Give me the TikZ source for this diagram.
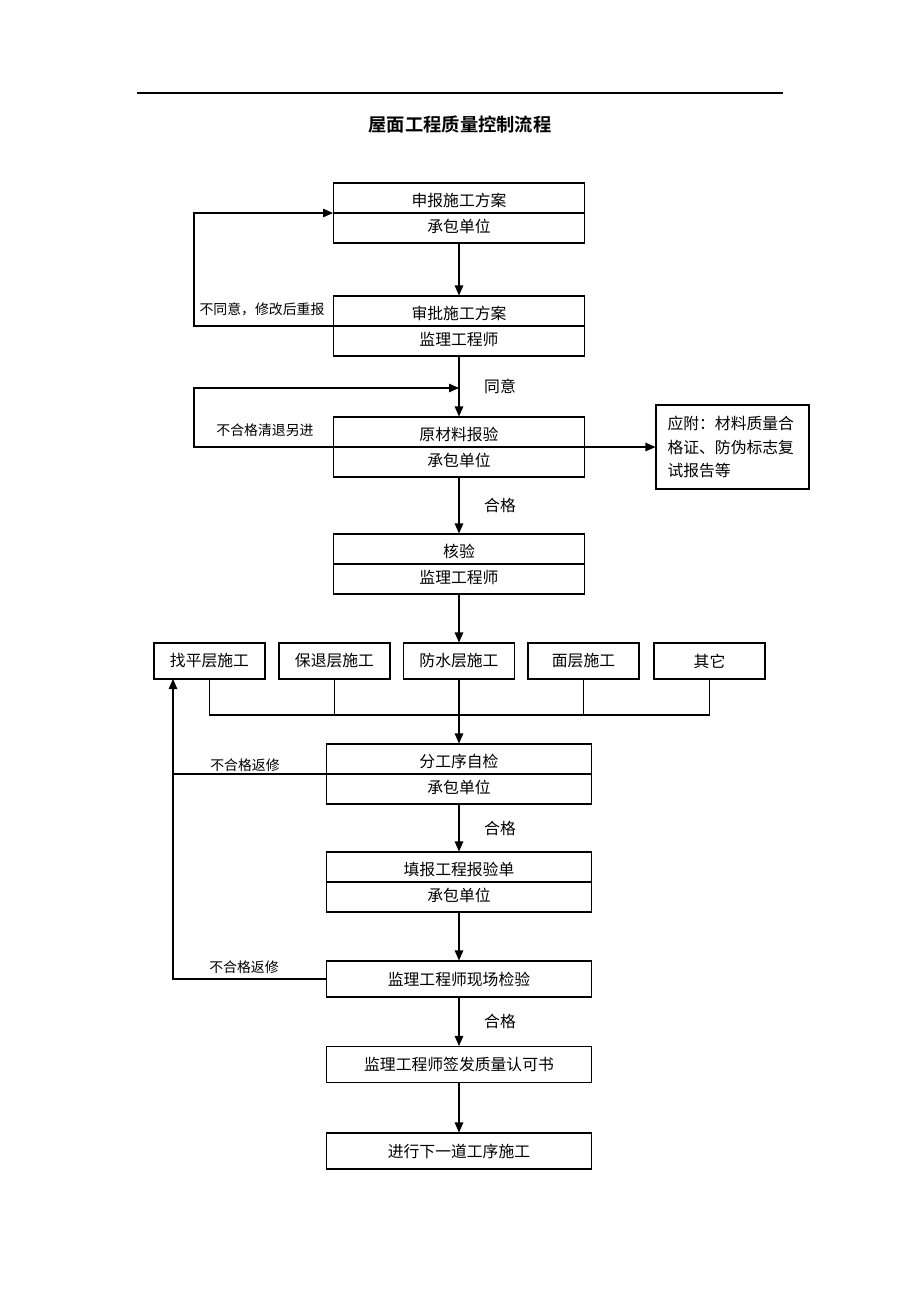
\documentclass[tikz,border=0pt]{standalone}
\usepackage{fontspec}
\setmainfont{Noto Sans CJK SC}[BoldFont={Noto Sans CJK SC Bold}]
\usetikzlibrary{arrows.meta,positioning,calc}

\begin{document}
\begin{tikzpicture}[x=0.02cm, y=-0.02cm, line width=0.6pt]
  \tikzstyle{box}=[draw, rectangle, inner sep=0pt, font=\fontsize{9}{11}\selectfont]
  \tikzstyle{wide}=[box, minimum width=5.02cm, minimum height=1.2cm]
  \tikzstyle{step1}=[box, minimum width=5.3cm, minimum height=0.72cm]
  \tikzstyle{layer}=[box, minimum width=2.22cm, minimum height=0.72cm]
  \tikzstyle{txt}=[inner sep=0pt, font=\fontsize{9}{11}\selectfont]
  \tikzstyle{lbl}=[inner sep=0pt, font=\fontsize{7.9}{9}\selectfont]
  \tikzstyle{arr}=[-{Triangle[length=0.2cm, width=0.17cm]}]

  \useasboundingbox (0,0) rectangle (920,1302);

  % Titel
  \draw (137,93) -- (783,93);
  \node[inner sep=0pt, font=\fontsize{10.4}{12}\selectfont\bfseries] (title) at (460,124) {屋面工程质量控制流程};

  % Kasten mit zwei Zeilen
  \node[wide] (b1) at (459,213) {};
  \draw (b1.west) -- (b1.east);
  \node[txt] at (459,200) {申报施工方案};
  \node[txt] at (459,226) {承包单位};

  \node[wide] (b2) at (459,326) {};
  \draw (b2.west) -- (b2.east);
  \node[txt] at (459,313) {审批施工方案};
  \node[txt] at (459,339) {监理工程师};

  \node[wide] (b3) at (459,447) {};
  \draw (b3.west) -- (b3.east);
  \node[txt] at (459,434) {原材料报验};
  \node[txt] at (459,460) {承包单位};

  \node[wide] (b4) at (459,564) {};
  \draw (b4.west) -- (b4.east);
  \node[txt] at (459,551) {核验};
  \node[txt] at (459,577) {监理工程师};

  % Hinweis
  \node[box, minimum width=3.06cm, minimum height=1.68cm, text width=2.6cm,
        inner xsep=0.23cm, align=left, font=\fontsize{9}{13.6}\selectfont] (note) at (732.5,447)
        {应附：材料质量合\\格证、防伪标志复\\试报告等};

  % Teilarbeiten
  \node[layer] (f1) at (209.5,661) {找平层施工};
  \node[layer] (f2) at (334.5,661) {保退层施工};
  \node[layer] (f3) at (459,661) {防水层施工};
  \node[layer] (f4) at (583.5,661) {面层施工};
  \node[layer] (f5) at (709.5,661) {其它};

  \node[box, minimum width=5.3cm, minimum height=1.2cm] (b5) at (459,774) {};
  \draw (b5.west) -- (b5.east);
  \node[txt] at (459,761) {分工序自检};
  \node[txt] at (459,787) {承包单位};

  \node[box, minimum width=5.3cm, minimum height=1.2cm] (b6) at (459,882) {};
  \draw (b6.west) -- (b6.east);
  \node[txt] at (459,869) {填报工程报验单};
  \node[txt] at (459,895) {承包单位};

  \node[step1] (b7) at (459,979) {监理工程师现场检验};
  \node[step1] (b8) at (459,1064.5) {监理工程师签发质量认可书};
  \node[step1] (b9) at (459,1151) {进行下一道工序施工};

  % Hilfspunkte
  \coordinate (r1) at (194,326);
  \coordinate (r2) at (194,447);
  \coordinate (m1) at (459,388);
  \coordinate (bus) at (459,715);
  \coordinate (t1) at (173,679);
  \coordinate (r3) at (173,774);

  % Pfeile
  \draw[arr] (b1) -- (b2);
  \draw[arr] (b2.west) -- (r1) |- (b1.west);
  \draw[arr] (b2) -- (b3);
  \draw[arr] (b3.west) -- (r2) |- (m1);
  \draw[arr] (b3.east) -- (note.west);
  \draw[arr] (b3) -- (b4);
  \draw[arr] (b4) -- (f3);
  \draw (f1.south) |- (bus) -| (f5.south);
  \draw (f2.south) -- (f2.south |- bus);
  \draw (f4.south) -- (f4.south |- bus);
  \draw[arr] (f3) -- (b5);
  \draw[arr] (b5.west) -| (t1);
  \draw (b7.west) -| (r3);
  \draw[arr] (b5) -- (b6);
  \draw[arr] (b6) -- (b7);
  \draw[arr] (b7) -- (b8);
  \draw[arr] (b8) -- (b9);

  % Beschriftung
  \node[lbl] at (262,309) {不同意，修改后重报};
  \node[txt] at (500,386) {同意};
  \node[lbl] at (265,430) {不合格清退另进};
  \node[txt] at (500,505) {合格};
  \node[lbl] at (245,765) {不合格返修};
  \node[txt] at (500,828) {合格};
  \node[lbl] at (244,967) {不合格返修};
  \node[txt] at (500,1021) {合格};
\end{tikzpicture}
\end{document}
